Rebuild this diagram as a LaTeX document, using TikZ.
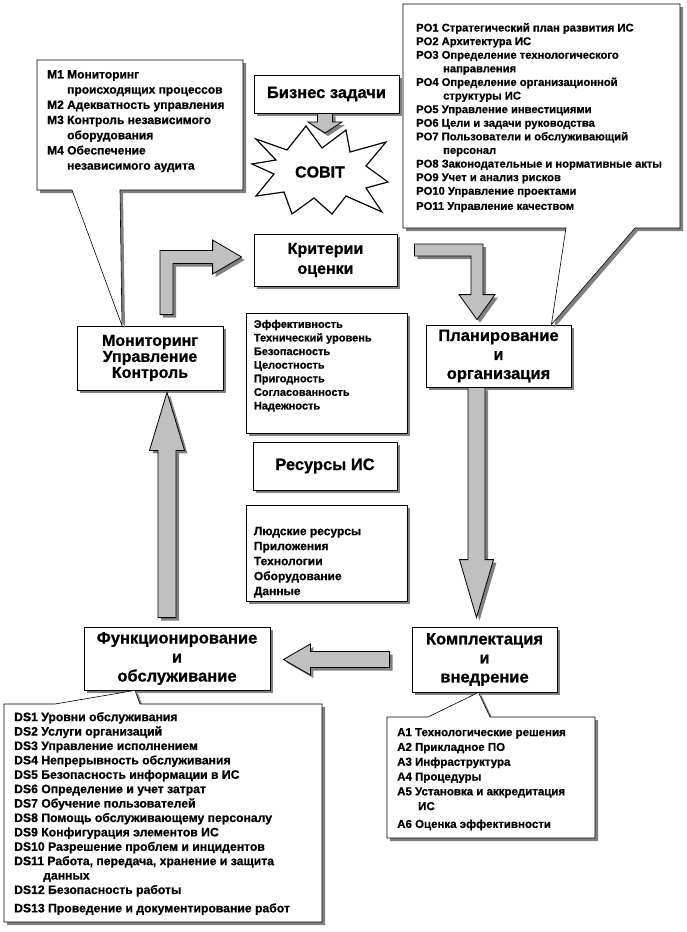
\documentclass[tikz,border=0pt]{standalone}
\usepackage{fontspec}
\setmainfont{Liberation Sans}[BoldFeatures={FakeBold=0.8}]
\usetikzlibrary{calc,shadows}
\definecolor{arrowgray}{RGB}{192,192,192}
\definecolor{shadowgray}{RGB}{128,128,128}

\begin{document}
\begin{tikzpicture}[x=1pt, y=-1pt,
    shade/.style={drop shadow={shadow xshift=3pt, shadow yshift=-3pt, fill=shadowgray, opacity=1}},
    box/.style={draw, line width=0.8pt, fill=white, inner sep=0pt, align=center, shade,
                font=\fontsize{16.5}{19}\selectfont\bfseries},
    listbox/.style={draw, line width=0.6pt, fill=white, inner sep=0pt, shade},
    listtext/.style={inner sep=0pt, anchor=north west, align=left},
    callout/.style={draw, line width=0.6pt, fill=white, line join=miter, shade},
    blockarrow/.style={draw, line width=0.8pt, fill=arrowgray, line join=miter, shade},
    burst/.style={draw, line width=1.2pt, fill=white, line join=miter}]
  % A straight block arrow: #1 = start of the shaft, #2 = tip, #3 = half width of the shaft,
  % #4 = half width of the head, #5 = length of the head.
  \newcommand{\blockarrow}[5]{%
    \coordinate (head) at ($(#2)!#5pt!(#1)$);
    \draw[blockarrow] ($(#1)!#3pt!90:(#2)$) -- ($(head)!#3pt!90:(#2)$) -- ($(head)!#4pt!90:(#2)$)
      -- (#2) -- ($(head)!#4pt!-90:(#2)$) -- ($(head)!#3pt!-90:(#2)$) -- ($(#1)!#3pt!-90:(#2)$) -- cycle;}
  % A block arrow with one right-angled bend: #1 = start, #2 = corner, #3 = tip,
  % #4 = half width of the shaft, #5 = half width of the head, #6 = length of the head.
  \newcommand{\elbowarrow}[6]{%
    \coordinate (head) at ($(#3)!#6pt!(#2)$);
    \coordinate (cl1) at ($(#2)!#4pt!-90:(#1)$);
    \coordinate (cl2) at ($(#2)!#4pt!90:(#3)$);
    \coordinate (cr1) at ($(#2)!#4pt!90:(#1)$);
    \coordinate (cr2) at ($(#2)!#4pt!-90:(#3)$);
    \draw[blockarrow] ($(#1)!#4pt!90:(#2)$) -- ($(cl1)+(cl2)-(#2)$) -- ($(head)!#4pt!90:(#3)$)
      -- ($(head)!#5pt!90:(#3)$) -- (#3) -- ($(head)!#5pt!-90:(#3)$) -- ($(head)!#4pt!-90:(#3)$)
      -- ($(cr1)+(cr2)-(#2)$) -- ($(#1)!#4pt!-90:(#2)$) -- cycle;}

  \path[use as bounding box, fill=white] (0,0) rectangle (687,932);

  % the cycle of the four domains
  \node[box, minimum width=145pt, minimum height=38pt] (business) at (326.5,94) {Бизнес задачи};
  \node[box, minimum width=143pt, minimum height=52pt, font=\fontsize{16}{20}\selectfont\bfseries]
    (criteria) at (325.5,260) {Критерии\\оценки};
  \node[box, minimum width=145pt, minimum height=62pt] (planning) at (498.5,356) {Планирование\\и\\организация};
  \node[box, minimum width=145pt, minimum height=65pt] (assembly) at (484.5,659.5) {Комплектация\\и\\внедрение};
  \node[box, minimum width=186pt, minimum height=63pt] (operation) at (177,658.5) {Функционирование\\и\\обслуживание};
  \node[box, minimum width=146pt, minimum height=64pt, font=\fontsize{16}{16}\selectfont\bfseries]
    (monitor) at (150,358) {Мониторинг\\Управление\\Контроль};
  \node[box, minimum width=144pt, minimum height=48pt] (resources) at (325,466) {Ресурсы ИС};

  % COBIT star
  \draw[burst, shift={(320,172)}] (-64,-33) -- (-33,-22) -- (-14,-46) -- (2,-24) -- (26,-42) -- (30,-20)
    -- (66,-30) -- (46,-6) -- (68,10) -- (46,16) -- (62,40) -- (26,24) -- (12,42) -- (-6,26) -- (-28,42)
    -- (-36,20) -- (-64,24) -- (-46,2) -- (-68,-8) -- (-44,-12) -- cycle;
  \node[font=\fontsize{16}{18}\selectfont\bfseries] (cobit) at (320,172) {COBIT};

  % block arrows
  \coordinate (biz-out) at ($(business.south)+(-1.5,0)$);
  \coordinate (cobit-in) at (biz-out |- 0,133);
  \blockarrow{biz-out}{cobit-in}{7.5}{17}{11}
  \coordinate (mon-out) at ($(monitor.north)+(16.5,-11)$);
  \coordinate (crit-in) at ($(criteria.west)+(-12,-3)$);
  \coordinate (mon-bend) at (mon-out |- crit-in);
  \elbowarrow{mon-out}{mon-bend}{crit-in}{6.5}{17}{29}
  \coordinate (crit-out) at ($(criteria.east)+(17,-10)$);
  \coordinate (plan-in) at ($(planning.north)+(-21.5,-5)$);
  \coordinate (crit-bend) at (plan-in |- crit-out);
  \elbowarrow{crit-out}{crit-bend}{plan-in}{6}{18}{25}
  \coordinate (plan-out) at ($(planning.south)+(-22,0)$);
  \coordinate (asm-in) at ($(assembly.north)+(-8,-9)$);
  \blockarrow{plan-out}{asm-in}{8.5}{17}{58}
  \coordinate (asm-out) at ($(assembly.west)+(-22,0)$);
  \coordinate (op-in) at ($(operation.east |- asm-out)+(13,0)$);
  \blockarrow{asm-out}{op-in}{8}{15.5}{27}
  \coordinate (op-out) at ($(operation.north)+(-10,-9)$);
  \coordinate (mon-in) at ($(monitor.south)+(17,2)$);
  \blockarrow{op-out}{mon-in}{9}{17.5}{58}

  % lists of criteria and resources
  \node[listbox, minimum width=161pt, minimum height=120pt] (critbox) at (326.5,373) {};
  \node[listtext, font=\fontsize{11}{13.6}\selectfont\bfseries] (crittext) at ($(critbox.north west)+(8,7)$)
    {Эффективность\\Технический уровень\\Безопасность\\Целостность\\Пригодность\\Согласованность\\Надежность};
  \node[listbox, minimum width=161pt, minimum height=96pt] (resbox) at (326.5,553) {};
  \node[listtext, font=\fontsize{12}{15}\selectfont\bfseries] (restext) at ($(resbox.north west)+(8,22)$)
    {Людские ресурсы\\Приложения\\Технологии\\Оборудование\\Данные};

  % callouts with the processes of each domain
  \draw[callout] (37,60) -- (243,60) -- (243,190) -- (120,190) -- ($(monitor.north)+(-28,0)$) -- (72,190)
    -- (37,190) -- cycle;
  \node[listtext, font=\fontsize{12}{15.2}\selectfont\bfseries] (mtext) at (47,70)
    {M1 Мониторинг\\\hspace*{20pt}происходящих процессов\\M2 Адекватность управления\\
     M3 Контроль независимого\\\hspace*{20pt}оборудования\\M4 Обеспечение\\\hspace*{20pt}независимого аудита};

  \draw[callout] (403,4) -- (680,4) -- (680,228) -- (635,228) -- ($(planning.north east)+(-20,0)$) -- (566,228)
    -- (403,228) -- cycle;
  \node[listtext, font=\fontsize{11.2}{13.6}\selectfont\bfseries] (potext) at (416,23)
    {PO1 Стратегический план развития ИС\\PO2 Архитектура ИС\\PO3 Определение технологического\\
     \hspace*{27pt}направления\\PO4 Определение организационной\\\hspace*{27pt}структуры ИС\\
     PO5 Управление инвестициями\\PO6 Цели и задачи руководства\\PO7 Пользователи и обслуживающий\\
     \hspace*{27pt}персонал\\PO8 Законодательные и нормативные акты\\PO9 Учет и анализ рисков\\
     PO10 Управление проектами\\[1.5pt]PO11 Управление качеством};

  \draw[callout] (4,704) -- (55,704) -- ($(operation.south)+(-42,0)$) -- (140,704) -- (322,704) -- (322,922)
    -- (4,922) -- cycle;
  \node[listtext, font=\fontsize{12.2}{14.4}\selectfont\bfseries] (dstext) at (14,712)
    {DS1 Уровни обслуживания\\DS2 Услуги организаций\\DS3 Управление исполнением\\
     DS4 Непрерывность обслуживания\\DS5 Безопасность информации в ИС\\DS6 Определение и учет затрат\\
     DS7 Обучение пользователей\\DS8 Помощь обслуживающему персоналу\\DS9 Конфигурация элементов ИС\\
     DS10 Разрешение проблем и инцидентов\\DS11 Работа, передача, хранение и защита\\
     \hspace*{29pt}данных\\DS12 Безопасность работы\\[4pt]DS13 Проведение и документирование работ};

  \draw[callout] (387,717) -- (428,717) -- ($(assembly.south)+(-6,0)$) -- (490,717) -- (595,717) -- (595,838)
    -- (387,838) -- cycle;
  \node[listtext, font=\fontsize{11.5}{14.8}\selectfont\bfseries] (atext) at (397,728)
    {A1 Технологические решения\\A2 Прикладное ПО\\A3 Инфраструктура\\A4 Процедуры\\
     A5 Установка и аккредитация\\\hspace*{21pt}ИС\\[3pt]A6 Оценка эффективности};
\end{tikzpicture}
\end{document}
